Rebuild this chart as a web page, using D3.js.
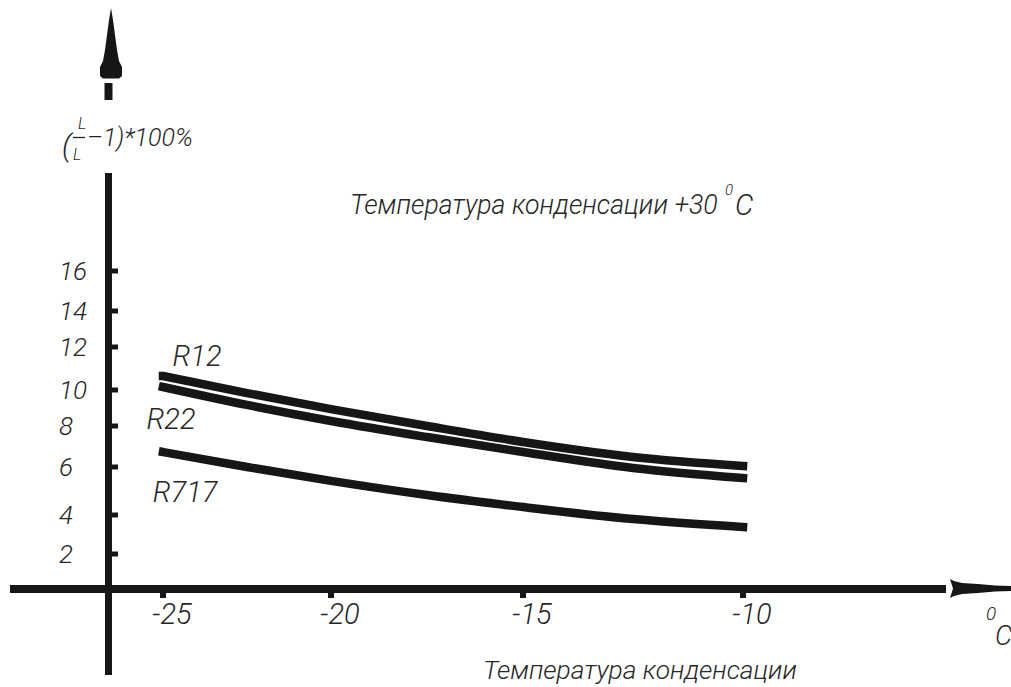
<!DOCTYPE html>
<html><head><meta charset="utf-8">
<script src="https://cdn.jsdelivr.net/npm/d3@7"></script>
<style>html,body{margin:0;padding:0;background:#fff;} svg{display:block}</style>
</head><body>
<svg id="chart" width="1011" height="687"></svg>
<script>
// ---- data ----
const temps = [-25, -22.5, -20, -17.5, -15, -12.5, -10];
const r12  = [10.65, 9.83, 8.94, 8.0, 7.22, 6.49, 6.05];
const r22  = [10.14, 9.17, 8.28, 7.46, 6.73, 5.96, 5.54];
const r717 = [6.73, 6.0, 5.42, 4.83, 4.33, 3.79, 3.38];
const seriesNames = ["R12", "R22", "R717"];
const xTickValues = [-25, -20, -15, -10];
const yTickValues = [2, 4, 6, 8, 10, 12, 14, 16];
const titleText = "Температура конденсации +30";
const xTitleText = "Температура конденсации";

// ---- scales (hand-drawn axis: piecewise linear) ----
const x = d3.scaleLinear().domain([-25, -20, -15, -10]).range([163, 331, 523, 743]);
const y = d3.scaleLinear().domain([0, 2, 4, 6, 8, 10, 12, 14, 16])
  .range([589, 554, 515, 467, 426, 390, 347, 311, 271]);

const svg = d3.select("#chart");
const INK = "#161616";
const TXT = "#262626";
const FONT = "Roboto, 'DejaVu Sans Condensed', sans-serif";
const W = 300;

// ---- axes ----
svg.append("line").attr("x1", 10).attr("x2", 946).attr("y1", y(0)).attr("y2", y(0))
  .attr("stroke", INK).attr("stroke-width", 8);
svg.append("path")
  .attr("d", "M950,579 L954,581 L962,583 L978,584 L995,585.5 L1011,586 L1011,591 L995,591.5 L978,593 L962,594 L954,596 L950,598 L953,588.5 Z")
  .attr("fill", INK);
svg.append("line").attr("x1", 108.5).attr("x2", 108.5).attr("y1", 173).attr("y2", 675)
  .attr("stroke", INK).attr("stroke-width", 7);
svg.append("line").attr("x1", 108.5).attr("x2", 108.5).attr("y1", 83).attr("y2", 100)
  .attr("stroke", INK).attr("stroke-width", 8);
svg.append("path")
  .attr("d", "M111,8 L113,20 L115,35 L117,50 L119,61 L122,67 L122,76 L119,78.5 L103,78.5 L100,76 L100,67 L103,61 L105,50 L107,35 L109,20 Z")
  .attr("fill", INK);

// x ticks
svg.append("g").selectAll("rect").data(xTickValues).join("rect")
  .attr("x", d => x(d) - 3).attr("y", y(0) + 2).attr("width", 6).attr("height", 7)
  .attr("fill", INK);
svg.append("g").selectAll("text").data(xTickValues).join("text")
  .attr("x", d => x(d) + 9).attr("y", 624)
  .attr("text-anchor", "middle")
  .attr("font-family", FONT).attr("font-style", "italic").attr("font-weight", W)
  .attr("font-size", 29).attr("fill", TXT)
  .text(d => d);

// y ticks
svg.append("g").selectAll("rect").data(yTickValues).join("rect")
  .attr("x", 111).attr("y", d => y(d) - 2.5).attr("width", 7).attr("height", 5)
  .attr("fill", INK);
svg.append("g").selectAll("text").data(yTickValues).join("text")
  .attr("x", 59).attr("y", d => y(d) + 9)
  .attr("font-family", FONT).attr("font-style", "italic").attr("font-weight", W)
  .attr("font-size", 26).attr("fill", TXT)
  .text(d => d);

// ---- curves ----
const line = d3.line().x((d, i) => x(temps[i])).y(d => y(d)).curve(d3.curveMonotoneX);
const series = [r12, r22, r717];
svg.append("g").selectAll("path").data(series).join("path")
  .attr("d", d => line(d))
  .attr("fill", "none").attr("stroke", INK).attr("stroke-width", 8.5)
  .attr("stroke-linecap", "square");

const labelOffsets = [[34, -20], [8, 32], [22, 40]];
svg.append("g").selectAll("text").data(series).join("text")
  .attr("x", (d, i) => x(temps[0]) + labelOffsets[i][0])
  .attr("y", (d, i) => y(d[0]) + labelOffsets[i][1] + 10)
  .attr("text-anchor", "middle")
  .attr("font-family", FONT).attr("font-style", "italic").attr("font-weight", W)
  .attr("font-size", 29).attr("fill", TXT)
  .text((d, i) => seriesNames[i]);

// ---- titles ----
const t = svg.append("g").attr("font-family", FONT).attr("font-style", "italic")
  .attr("font-weight", W).attr("fill", TXT);

// fit a text to a target width by adjusting its font size
function fitText(sel, width, base) {
  sel.attr("font-size", base);
  const w = sel.node().getComputedTextLength();
  if (w > 0) sel.attr("font-size", base * width / w);
  return sel;
}

fitText(t.append("text").attr("x", 350).attr("y", 214).text(titleText), 368, 29);
t.append("text").attr("x", 725).attr("y", 195).attr("font-size", 15).text("0");
t.append("text").attr("x", 735).attr("y", 215).attr("font-size", 29).text("C");

fitText(t.append("text").attr("x", 483).attr("y", 679).text(xTitleText), 314, 29);

t.append("text").attr("x", 986).attr("y", 620).attr("font-size", 19).text("0");
t.append("text").attr("x", 995).attr("y", 645).attr("font-size", 27).text("C");

// y axis label  (L/L − 1)*100 %
t.append("text").attr("x", 62).attr("y", 156).attr("font-size", 30).text("(");
t.append("text").attr("x", 78).attr("y", 129).attr("font-size", 16).text("L");
svg.append("line").attr("x1", 73).attr("x2", 85).attr("y1", 137.5).attr("y2", 137.5)
  .attr("stroke", TXT).attr("stroke-width", 1.3);
t.append("text").attr("x", 73).attr("y", 160).attr("font-size", 16).text("L");
t.append("text").attr("x", 87).attr("y", 146).attr("font-size", 25).text("–1)*100%");
</script>
</body></html>
